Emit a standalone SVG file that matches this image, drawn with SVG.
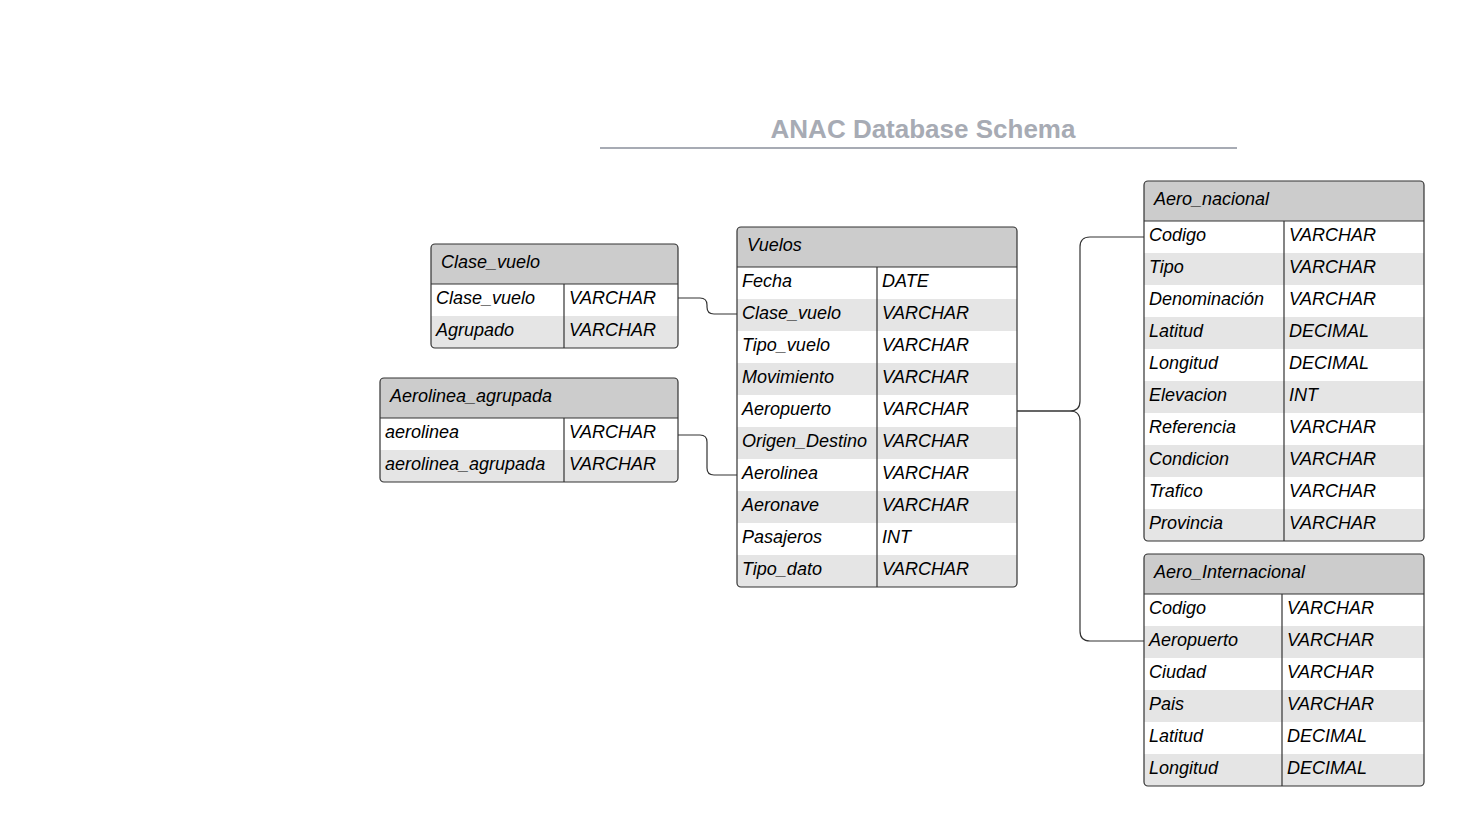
<svg xmlns="http://www.w3.org/2000/svg" width="1464" height="826" viewBox="0 0 1464 826">
<style>
.t{font-family:"Liberation Sans",Arial,sans-serif;font-style:italic;font-size:18px;fill:#000}
.hd{fill:#cccccc}
.w{fill:#ffffff}
.g{fill:#e5e5e5}
.frame{fill:none;stroke:#333333;stroke-width:1.2}
.ln{stroke:#333333;stroke-width:1.2;fill:none}
.conn{fill:none;stroke:#333333;stroke-width:1.2}
.title{font-family:"Liberation Sans",Arial,sans-serif;font-weight:bold;font-size:26px;fill:#a7abb4}
</style>
<rect width="1464" height="826" fill="#ffffff"/>
<g id="title">
<text class="title" x="923" y="138" text-anchor="middle">ANAC Database Schema</text>
<line x1="600" y1="148" x2="1237" y2="148" stroke="#a7abb4" stroke-width="2"/>
</g>
<g id="connectors">
<path class="conn" d="M678,298 H700 Q707,298 707,305 V307 Q707,314 714,314 H737"/>
<path class="conn" d="M678,435 H700 Q707,435 707,442 V468 Q707,475 714,475 H737"/>
<path class="conn" d="M1017,411 H1070 Q1080,411 1080,401 V247 Q1080,237 1090,237 H1144"/>
<path class="conn" d="M1017,411 H1070 Q1080,411 1080,421 V631 Q1080,641 1090,641 H1144"/>
</g>
<g id="clase_vuelo">
<path class="hd" d="M431,284 V248 Q431,244 435,244 H674 Q678,244 678,248 V284 Z"/>
<rect class="w" x="431" y="284" width="247" height="32"/>
<path class="g" d="M431,316 H678 V344 Q678,348 674,348 H435 Q431,348 431,344 Z"/>
<rect class="frame" x="431" y="244" width="247" height="104" rx="4"/>
<line class="ln" x1="431" y1="284" x2="678" y2="284"/>
<line class="ln" x1="564" y1="284" x2="564" y2="348"/>
<text class="t" x="441" y="268">Clase_vuelo</text>
<text class="t" x="436" y="304">Clase_vuelo</text><text class="t" x="569" y="304">VARCHAR</text>
<text class="t" x="436" y="336">Agrupado</text><text class="t" x="569" y="336">VARCHAR</text>
</g>
<g id="aerolinea_agrupada">
<path class="hd" d="M380,418 V382 Q380,378 384,378 H674 Q678,378 678,382 V418 Z"/>
<rect class="w" x="380" y="418" width="298" height="32"/>
<path class="g" d="M380,450 H678 V478 Q678,482 674,482 H384 Q380,482 380,478 Z"/>
<rect class="frame" x="380" y="378" width="298" height="104" rx="4"/>
<line class="ln" x1="380" y1="418" x2="678" y2="418"/>
<line class="ln" x1="564" y1="418" x2="564" y2="482"/>
<text class="t" x="390" y="402">Aerolinea_agrupada</text>
<text class="t" x="385" y="438">aerolinea</text><text class="t" x="569" y="438">VARCHAR</text>
<text class="t" x="385" y="470">aerolinea_agrupada</text><text class="t" x="569" y="470">VARCHAR</text>
</g>
<g id="vuelos">
<path class="hd" d="M737,267 V231 Q737,227 741,227 H1013 Q1017,227 1017,231 V267 Z"/>
<rect class="w" x="737" y="267" width="280" height="32"/>
<rect class="g" x="737" y="299" width="280" height="32"/>
<rect class="w" x="737" y="331" width="280" height="32"/>
<rect class="g" x="737" y="363" width="280" height="32"/>
<rect class="w" x="737" y="395" width="280" height="32"/>
<rect class="g" x="737" y="427" width="280" height="32"/>
<rect class="w" x="737" y="459" width="280" height="32"/>
<rect class="g" x="737" y="491" width="280" height="32"/>
<rect class="w" x="737" y="523" width="280" height="32"/>
<path class="g" d="M737,555 H1017 V583 Q1017,587 1013,587 H741 Q737,587 737,583 Z"/>
<rect class="frame" x="737" y="227" width="280" height="360" rx="4"/>
<line class="ln" x1="737" y1="267" x2="1017" y2="267"/>
<line class="ln" x1="877" y1="267" x2="877" y2="587"/>
<text class="t" x="747" y="251">Vuelos</text>
<text class="t" x="742" y="287">Fecha</text><text class="t" x="882" y="287">DATE</text>
<text class="t" x="742" y="319">Clase_vuelo</text><text class="t" x="882" y="319">VARCHAR</text>
<text class="t" x="742" y="351">Tipo_vuelo</text><text class="t" x="882" y="351">VARCHAR</text>
<text class="t" x="742" y="383">Movimiento</text><text class="t" x="882" y="383">VARCHAR</text>
<text class="t" x="742" y="415">Aeropuerto</text><text class="t" x="882" y="415">VARCHAR</text>
<text class="t" x="742" y="447">Origen_Destino</text><text class="t" x="882" y="447">VARCHAR</text>
<text class="t" x="742" y="479">Aerolinea</text><text class="t" x="882" y="479">VARCHAR</text>
<text class="t" x="742" y="511">Aeronave</text><text class="t" x="882" y="511">VARCHAR</text>
<text class="t" x="742" y="543">Pasajeros</text><text class="t" x="882" y="543">INT</text>
<text class="t" x="742" y="575">Tipo_dato</text><text class="t" x="882" y="575">VARCHAR</text>
</g>
<g id="aero_nacional">
<path class="hd" d="M1144,221 V185 Q1144,181 1148,181 H1420 Q1424,181 1424,185 V221 Z"/>
<rect class="w" x="1144" y="221" width="280" height="32"/>
<rect class="g" x="1144" y="253" width="280" height="32"/>
<rect class="w" x="1144" y="285" width="280" height="32"/>
<rect class="g" x="1144" y="317" width="280" height="32"/>
<rect class="w" x="1144" y="349" width="280" height="32"/>
<rect class="g" x="1144" y="381" width="280" height="32"/>
<rect class="w" x="1144" y="413" width="280" height="32"/>
<rect class="g" x="1144" y="445" width="280" height="32"/>
<rect class="w" x="1144" y="477" width="280" height="32"/>
<path class="g" d="M1144,509 H1424 V537 Q1424,541 1420,541 H1148 Q1144,541 1144,537 Z"/>
<rect class="frame" x="1144" y="181" width="280" height="360" rx="4"/>
<line class="ln" x1="1144" y1="221" x2="1424" y2="221"/>
<line class="ln" x1="1284" y1="221" x2="1284" y2="541"/>
<text class="t" x="1154" y="205">Aero_nacional</text>
<text class="t" x="1149" y="241">Codigo</text><text class="t" x="1289" y="241">VARCHAR</text>
<text class="t" x="1149" y="273">Tipo</text><text class="t" x="1289" y="273">VARCHAR</text>
<text class="t" x="1149" y="305">Denominación</text><text class="t" x="1289" y="305">VARCHAR</text>
<text class="t" x="1149" y="337">Latitud</text><text class="t" x="1289" y="337">DECIMAL</text>
<text class="t" x="1149" y="369">Longitud</text><text class="t" x="1289" y="369">DECIMAL</text>
<text class="t" x="1149" y="401">Elevacion</text><text class="t" x="1289" y="401">INT</text>
<text class="t" x="1149" y="433">Referencia</text><text class="t" x="1289" y="433">VARCHAR</text>
<text class="t" x="1149" y="465">Condicion</text><text class="t" x="1289" y="465">VARCHAR</text>
<text class="t" x="1149" y="497">Trafico</text><text class="t" x="1289" y="497">VARCHAR</text>
<text class="t" x="1149" y="529">Provincia</text><text class="t" x="1289" y="529">VARCHAR</text>
</g>
<g id="aero_internacional">
<path class="hd" d="M1144,594 V558 Q1144,554 1148,554 H1420 Q1424,554 1424,558 V594 Z"/>
<rect class="w" x="1144" y="594" width="280" height="32"/>
<rect class="g" x="1144" y="626" width="280" height="32"/>
<rect class="w" x="1144" y="658" width="280" height="32"/>
<rect class="g" x="1144" y="690" width="280" height="32"/>
<rect class="w" x="1144" y="722" width="280" height="32"/>
<path class="g" d="M1144,754 H1424 V782 Q1424,786 1420,786 H1148 Q1144,786 1144,782 Z"/>
<rect class="frame" x="1144" y="554" width="280" height="232" rx="4"/>
<line class="ln" x1="1144" y1="594" x2="1424" y2="594"/>
<line class="ln" x1="1282" y1="594" x2="1282" y2="786"/>
<text class="t" x="1154" y="578">Aero_Internacional</text>
<text class="t" x="1149" y="614">Codigo</text><text class="t" x="1287" y="614">VARCHAR</text>
<text class="t" x="1149" y="646">Aeropuerto</text><text class="t" x="1287" y="646">VARCHAR</text>
<text class="t" x="1149" y="678">Ciudad</text><text class="t" x="1287" y="678">VARCHAR</text>
<text class="t" x="1149" y="710">Pais</text><text class="t" x="1287" y="710">VARCHAR</text>
<text class="t" x="1149" y="742">Latitud</text><text class="t" x="1287" y="742">DECIMAL</text>
<text class="t" x="1149" y="774">Longitud</text><text class="t" x="1287" y="774">DECIMAL</text>
</g>
</svg>
